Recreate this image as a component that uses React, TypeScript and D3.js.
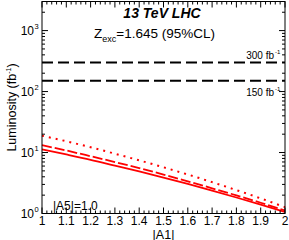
import React from 'react';
import * as d3 from 'd3';

const a1 = [1.0, 1.1, 1.2, 1.3, 1.4, 1.5, 1.6, 1.7, 1.8, 1.9, 2.0];
const lumiSolid = [11.3, 9.3, 7.6, 6.1, 4.9, 3.88, 3.05, 2.37, 1.83, 1.4, 1.06];
const lumiDashed = [13.2, 10.8, 8.7, 6.98, 5.55, 4.35, 3.37, 2.59, 1.98, 1.5, 1.12];
const lumiDotted = [18.9, 15.3, 12.2, 9.57, 7.45, 5.73, 4.36, 3.27, 2.42, 1.77, 1.27];
const refLumis = [300, 150];
const xTickLabels = ['1', '1.1', '1.2', '1.3', '1.4', '1.5', '1.6', '1.7', '1.8', '1.9', '2'];
const yDecades = [0, 1, 2, 3];

const W = 289;
const H = 240;
const L = 42, R = 285, T = 1.5, B = 213.5;
const FONT = '"Liberation Sans", Arial, sans-serif';

export default function App() {
  const x = d3.scaleLinear().domain([1, 2]).range([L, R]);
  const y = d3.scaleLog().domain([1, 3000]).range([B, T]);

  const line = d3.line<number>()
    .x((_, i) => x(a1[i]))
    .y(d => y(d))
    .curve(d3.curveMonotoneX);

  const minorX = d3.range(0, 51).map(i => 1 + i * 0.02);
  const majorX = xTickLabels.map(s => +s);

  const yTicks: { v: number; major: boolean }[] = [];
  yDecades.forEach(d => {
    for (let k = 1; k <= 9; k++) {
      const v = k * Math.pow(10, d);
      if (v <= 3000) yTicks.push({ v, major: k === 1 });
    }
  });

  return (
    <svg width={W} height={H} style={{ position: 'fixed', left: 0, top: 0, background: '#fff' }}
      fontFamily={FONT}>
      {/* reference luminosity lines */}
      {refLumis.map(v => (
        <line key={v} x1={L} x2={R} y1={y(v)} y2={y(v)} stroke="#000" strokeWidth={2}
          strokeDasharray="11,5" />
      ))}
      <text x={274} y={y(300) - 3} fontSize={10} textAnchor="end">300 fb</text>
      <text x={275} y={y(300) - 8} fontSize={6}>-1</text>
      <text x={274} y={y(150) + 15} fontSize={10} textAnchor="end">150 fb</text>
      <text x={275} y={y(150) + 10} fontSize={6}>-1</text>

      {/* curves */}
      <path d={line(lumiSolid) || ''} fill="none" stroke="#ff0000" strokeWidth={1.8} />
      <path d={line(lumiDashed) || ''} fill="none" stroke="#ff0000" strokeWidth={1.8}
        strokeDasharray="10,3" />
      <path d={line(lumiDotted) || ''} fill="none" stroke="#ff0000" strokeWidth={2}
        strokeDasharray="2,5" />

      {/* frame */}
      <rect x={L} y={T} width={R - L} height={B - T} fill="none" stroke="#000" strokeWidth={1} />

      {/* x ticks */}
      {minorX.map((v, i) => {
        const major = i % 5 === 0;
        const len = major ? 6 : 3;
        return (
          <g key={'x' + i} stroke="#000" strokeWidth={1}>
            <line x1={x(v)} x2={x(v)} y1={B} y2={B - len} />
            <line x1={x(v)} x2={x(v)} y1={T} y2={T + len} />
          </g>
        );
      })}
      {majorX.map((v, i) => (
        <text key={'xl' + i} x={x(v)} y={224.5} fontSize={12} textAnchor="middle">{xTickLabels[i]}</text>
      ))}
      <text x={(L + R) / 2} y={238.5} fontSize={12.5} textAnchor="middle">|A1|</text>

      {/* y ticks */}
      {yTicks.map((t, i) => {
        const len = t.major ? 6 : 3;
        return (
          <g key={'y' + i} stroke="#000" strokeWidth={1}>
            <line x1={L} x2={L + len} y1={y(t.v)} y2={y(t.v)} />
            <line x1={R} x2={R - len} y1={y(t.v)} y2={y(t.v)} />
          </g>
        );
      })}
      {yDecades.map(d => (
        <g key={'yl' + d}>
          <text x={34} y={y(Math.pow(10, d)) + 4} fontSize={12} textAnchor="end">10</text>
          <text x={34.5} y={y(Math.pow(10, d)) - 2} fontSize={7.5}>{d}</text>
        </g>
      ))}
      <text transform={`translate(16,${(T + B) / 2}) rotate(-90)`} fontSize={12.5} textAnchor="middle">
        Luminosity (fb<tspan dy={-5} fontSize={7}>-1</tspan><tspan dy={5}>)</tspan>
      </text>

      {/* labels */}
      <text x={162} y={18} fontSize={14} fontWeight="bold" fontStyle="italic" textAnchor="middle">13 TeV LHC</text>
      <text x={94} y={38} fontSize={13.5}>
        Z<tspan dy={4} fontSize={9}>exc</tspan><tspan dy={-4}>=1.645 (95%CL)</tspan>
      </text>
      <text x={53} y={210} fontSize={12}>|A5|=1.0</text>
    </svg>
  );
}
